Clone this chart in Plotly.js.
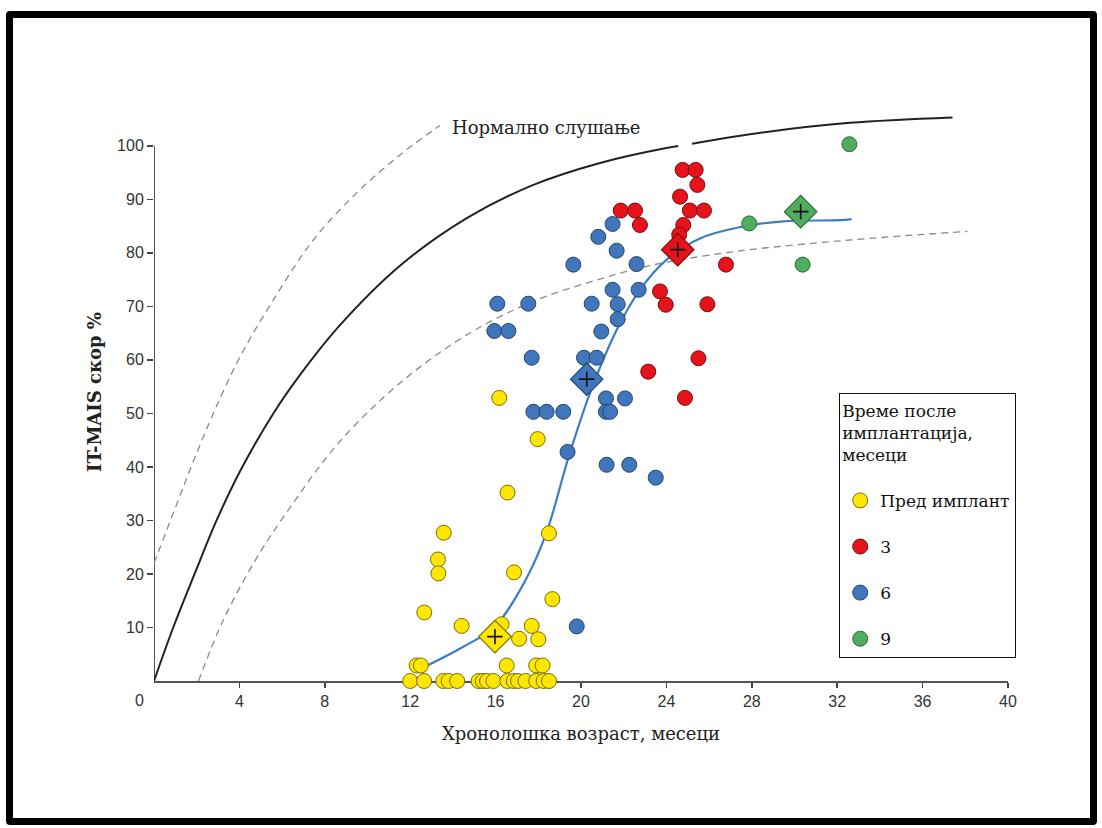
<!DOCTYPE html>
<html>
<head>
<meta charset="utf-8">
<script src="https://cdn.plot.ly/plotly-3.0.1.min.js"></script>
<style>
  html, body { margin: 0; padding: 0; background: #fff; }
  #chart { width: 1102px; height: 828px; }
  #frame { position: absolute; left: 6px; top: 11px; width: 1091px; height: 814px;
           box-sizing: border-box; border: 7px solid #000; border-radius: 4px; pointer-events: none; }
</style>
</head>
<body>
<div id="chart"></div>
<div id="frame"></div>
<script>
// ---- data ----
const preX = [16.17, 17.97, 16.56, 13.57, 18.5, 13.3, 13.32, 16.86, 18.66, 12.66, 14.41, 16.28, 17.69, 17.1, 18.0,
              12.3, 12.5, 16.52, 17.9, 18.2,
              12.0, 12.65, 13.55, 13.8, 14.2, 15.2, 15.4, 15.6, 15.9, 16.55, 16.85, 17.05, 17.4, 17.9, 18.25, 18.5];
const preY = [52.9, 45.2, 35.2, 27.7, 27.6, 22.7, 20.1, 20.3, 15.3, 12.8, 10.3, 10.6, 10.3, 7.9, 7.8,
              2.9, 2.9, 2.9, 2.9, 2.9,
              0, 0, 0, 0, 0, 0, 0, 0, 0, 0, 0, 0, 0, 0, 0, 0];

const m3X = [24.76, 25.37, 25.45, 24.64, 25.1, 25.76, 24.79, 24.6, 21.86, 22.53, 22.76, 26.79, 23.7, 23.97, 25.92, 25.5, 23.15, 24.87];
const m3Y = [95.5, 95.5, 92.7, 90.5, 87.9, 87.9, 85.2, 83.4, 87.9, 87.9, 85.2, 77.8, 72.8, 70.3, 70.4, 60.3, 57.8, 52.9];

const m6X = [21.48, 20.81, 21.67, 19.64, 22.6, 21.48, 22.7, 16.08, 17.53, 20.5, 21.72, 21.72, 15.94, 16.6, 20.95,
             17.69, 20.14, 20.73, 21.17, 22.06, 17.77, 18.39, 19.17, 21.17, 21.36, 19.37, 21.2, 22.26, 23.5, 19.8];
const m6Y = [85.4, 83.0, 80.4, 77.8, 77.9, 73.1, 73.1, 70.5, 70.5, 70.5, 70.4, 67.6, 65.4, 65.4, 65.3,
             60.4, 60.4, 60.4, 52.8, 52.8, 50.3, 50.3, 50.3, 50.3, 50.3, 42.8, 40.4, 40.4, 38.0, 10.2];

const m9X = [27.88, 30.38, 32.57];
const m9Y = [85.5, 77.8, 100.3];

// group means (diamonds): pre, 3, 6, 9
const meanX = [15.97, 24.53, 20.27, 30.29];
const meanY = [8.3, 80.6, 56.4, 87.7];

// fitted trend through the means
const fitX = [12.65, 14.49, 15.97, 17.46, 18.39, 19.4, 20.42, 21.67, 22.76, 24.0, 25.57, 27.45, 29.48, 32.13, 32.67];
const fitY = [2.6, 6.4, 10.2, 19.3, 27.8, 41.6, 53.8, 65.6, 73.1, 78.7, 82.7, 84.8, 85.9, 86.1, 86.3];

// normal hearing curve and its bounds
const normX = [0, 0.9, 1.9, 2.93, 4.03, 5.59, 6.84, 8.71, 11.52, 14.65, 17.77, 20.89, 24.0, 24.55, null, 25.2, 28.7, 32.6, 37.4];
const normY = [0, 10.0, 20.0, 30.0, 39.2, 50.0, 57.2, 66.5, 77.6, 86.5, 92.7, 96.8, 99.6, 99.95, null, 100.4, 102.6, 104.3, 105.3];
const upX = [0, 1.06, 1.84, 2.78, 4.03, 5.59, 7.46, 9.49, 11.52, 13.0, 13.4];
const upY = [22.0, 33.0, 41.0, 50.0, 60.6, 71.2, 82.4, 91.2, 98.3, 102.7, 103.8];
const loX = [2.08, 3.25, 4.81, 6.37, 8.71, 11.8, 14.96, 17.93, 21.05, 23.2, 27.1, 32.6, 38.1];
const loY = [0, 11.4, 23.0, 32.4, 44.8, 56.6, 65.4, 71.2, 75.3, 77.6, 80.2, 82.4, 84.0];

const xTicks = [4, 8, 12, 16, 20, 24, 28, 32, 36, 40];
const yTicks = [10, 20, 30, 40, 50, 60, 70, 80, 90, 100];

const groupNames = ['Пред имплант', '3', '6', '9'];
const fills = ['#FFE600', '#E8131A', '#3F76BC', '#4FAE5E'];
const edges = ['#7A6E00', '#7A0A0A', '#23456F', '#2B6A38'];

// ---- traces ----
const serif = 'DejaVu Serif, serif';
const sans = 'Liberation Sans, Arial, sans-serif';
const traces = [];
traces.push({x: upX, y: upY, mode: 'lines', line: {color: '#8a8a8a', width: 1.3, dash: '7px,5px', shape: 'spline'}, showlegend: false, hoverinfo: 'skip'});
traces.push({x: loX, y: loY, mode: 'lines', line: {color: '#8a8a8a', width: 1.3, dash: '7px,5px', shape: 'spline'}, showlegend: false, hoverinfo: 'skip'});
traces.push({x: normX, y: normY, mode: 'lines', line: {color: '#222', width: 2, shape: 'spline'}, connectgaps: false, showlegend: false, hoverinfo: 'skip'});
traces.push({x: fitX, y: fitY, mode: 'lines', line: {color: '#3E7DC2', width: 2.2, shape: 'spline'}, showlegend: false, hoverinfo: 'skip'});

const groups = [[preX, preY], [m3X, m3Y], [m6X, m6Y], [m9X, m9Y]];
groups.forEach((g, i) => {
  traces.push({
    x: g[0], y: g[1], mode: 'markers', name: groupNames[i], legendgroup: 'g' + i,
    marker: {size: 15, color: fills[i], line: {color: edges[i], width: 1}},
    cliponaxis: false
  });
});
traces.push({x: meanX, y: meanY, mode: 'markers', showlegend: false, cliponaxis: false,
  marker: {symbol: 'diamond', size: 25, color: fills, line: {color: edges, width: 1.2}}});
traces.push({x: meanX, y: meanY, mode: 'markers', showlegend: false, cliponaxis: false,
  marker: {symbol: 'cross-thin-open', size: 11, color: '#111', line: {color: '#111', width: 1.6}}});

const layout = {
  width: 1102, height: 828,
  margin: {l: 154, r: 94, t: 103, b: 147},
  paper_bgcolor: '#fff', plot_bgcolor: '#fff',
  showlegend: true,
  xaxis: {
    range: [0, 40], tickvals: xTicks, ticks: 'outside', ticklen: 5, tickwidth: 1.5, tickcolor: '#444',
    showgrid: false, zeroline: false, showline: true, linecolor: '#555', linewidth: 2, layer: 'below traces',
    tickfont: {family: sans, size: 16, color: '#333'},
    title: {text: 'Хронолошка возраст, месеци', font: {family: serif, size: 18, color: '#222'}, standoff: 18}
  },
  yaxis: {
    range: [0, 108], tickvals: yTicks, ticks: 'outside', ticklen: 6, tickwidth: 1.5, tickcolor: '#444',
    showgrid: false, zeroline: false, showline: false, layer: 'below traces',
    tickfont: {family: sans, size: 16, color: '#333'},
    title: {text: '<b>IT-MAIS скор %</b>', font: {family: serif, size: 18, color: '#222'}, standoff: 10}
  },
  shapes: [
    {type: 'line', xref: 'x', yref: 'y', x0: 0, x1: 0, y0: 0, y1: 100, line: {color: '#555', width: 2}, layer: 'below'}
  ],
  annotations: [
    {x: 18.4, y: 103.4, xref: 'x', yref: 'y', text: 'Нормално слушање', showarrow: false,
     font: {family: serif, size: 18, color: '#222'}},
    {x: 0, y: 0, xref: 'x', yref: 'y', text: '0', showarrow: false, xshift: -15, yshift: -19,
     font: {family: sans, size: 16, color: '#333'}}
  ],
  legend: {
    x: 0.802, y: 0.498, xanchor: 'left', yanchor: 'top',
    bgcolor: '#fff', bordercolor: '#111', borderwidth: 1.3,
    font: {family: serif, size: 17, color: '#111'},
    title: {text: 'Време после<br>имплантација,<br>месеци<br>&nbsp;', font: {family: serif, size: 17, color: '#111'}, side: 'top'},
    tracegroupgap: 21, itemwidth: 30
  }
};

Plotly.newPlot('chart', traces, layout, {displayModeBar: false, staticPlot: true});
</script>
</body>
</html>
